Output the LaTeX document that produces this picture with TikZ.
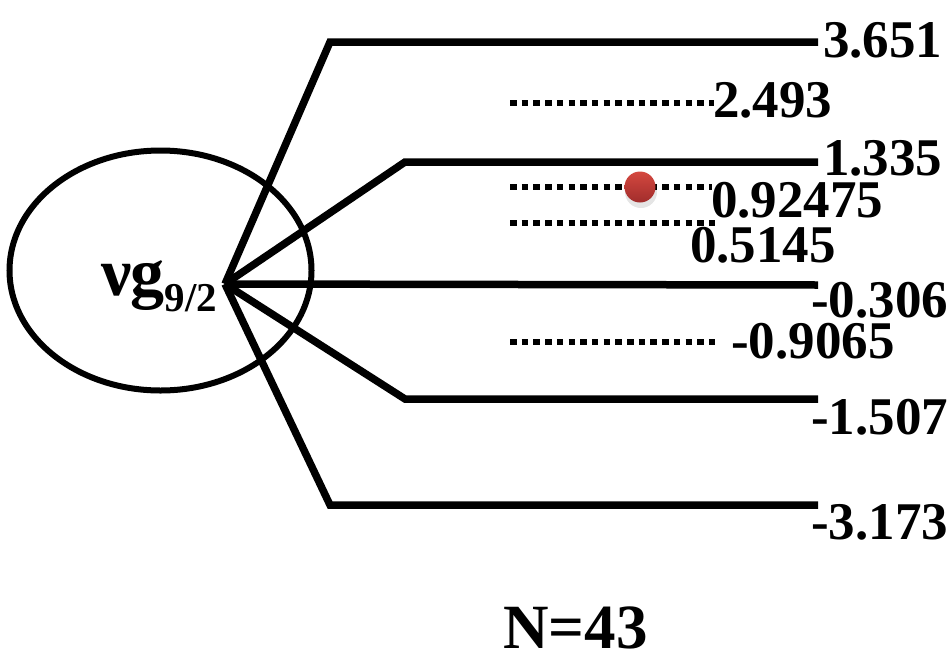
\documentclass[tikz,border=0pt]{standalone}
\usepackage{fontspec}
\setmainfont{Liberation Serif}
\usetikzlibrary{shapes.geometric}
\definecolor{dottop}{HTML}{D4483F}
\definecolor{dotbot}{HTML}{A12D2C}
\begin{document}
\begin{tikzpicture}[x=1pt,y=-1pt,
  level/.style={line width=7.5pt, line join=miter},
  virt/.style={line width=6.5pt, dash pattern=on 6.5pt off 5.2pt},
  val/.style={anchor=west, inner sep=0pt, font=\fontsize{53}{53}\selectfont\bfseries},
]
\useasboundingbox (0,0) rectangle (952,656);

% the orbit
\node[ellipse, draw, line width=6pt, minimum width=302pt, minimum height=240pt, inner sep=0pt] (orb) at (160.5,270.5) {};
\node[anchor=base west, inner sep=0pt, font=\bfseries] (orblabel) at (101,295)
  {\fontsize{68}{68}\selectfont ν\kern-1pt g\raisebox{-16pt}{\fontsize{41}{41}\selectfont 9/2}};

% splitting point and level corners
\coordinate (apex) at (225,284);
\coordinate (k1) at (330,42);   \coordinate (e1) at (818,42);
\coordinate (k2) at (405,162);  \coordinate (e2) at (818,162);
\coordinate (e3) at (818,285);
\coordinate (k4) at (405,399);  \coordinate (e4) at (818,399);
\coordinate (k5) at (330,505);  \coordinate (e5) at (818,505);

\draw[level] (apex) -- (k1) -- (e1);
\draw[level] (apex) -- (k2) -- (e2);
\draw[level] (apex) -- (e3);
\draw[level] (apex) -- (k4) -- (e4);
\draw[level] (apex) -- (k5) -- (e5);

% intermediate levels
\coordinate (d1a) at (510,103); \coordinate (d1b) at (714,103);
\coordinate (d2a) at (510,187); \coordinate (d2b) at (712,187);
\coordinate (d3a) at (510,223); \coordinate (d3b) at (717,223);
\coordinate (d4a) at (510,342); \coordinate (d4b) at (717,342);
\draw[virt] (d1a) -- (d1b);
\draw[virt] (d2a) -- (d2b);
\draw[virt] (d3a) -- (d3b);
\draw[virt] (d4a) -- (d4b);

% occupied state
\fill[black, opacity=0.10] (641,192) circle (16pt);
\node[circle, minimum size=31pt, inner sep=0pt, top color=dottop, bottom color=dotbot] (dot) at (640,187) {};

% energies
\node[val] (v1) at (823,40) {3.651};
\node[val] (v2) at (713,100) {2.493};
\node[val] (v3) at (823,158) {1.335};
\node[val] (v4) at (711,200) {0.92475};
\node[val] (v5) at (690,245) {0.5145};
\node[val] (v6) at (811,300) {-0.306};
\node[val] (v7) at (731,341) {-0.9065};
\node[val] (v8) at (811,417) {-1.507};
\node[val] (v9) at (811,522) {-3.173};

\node[anchor=west, inner sep=0pt, font=\fontsize{63}{63}\selectfont\bfseries] (nlabel) at (503,628) {N=43};
\end{tikzpicture}
\end{document}
